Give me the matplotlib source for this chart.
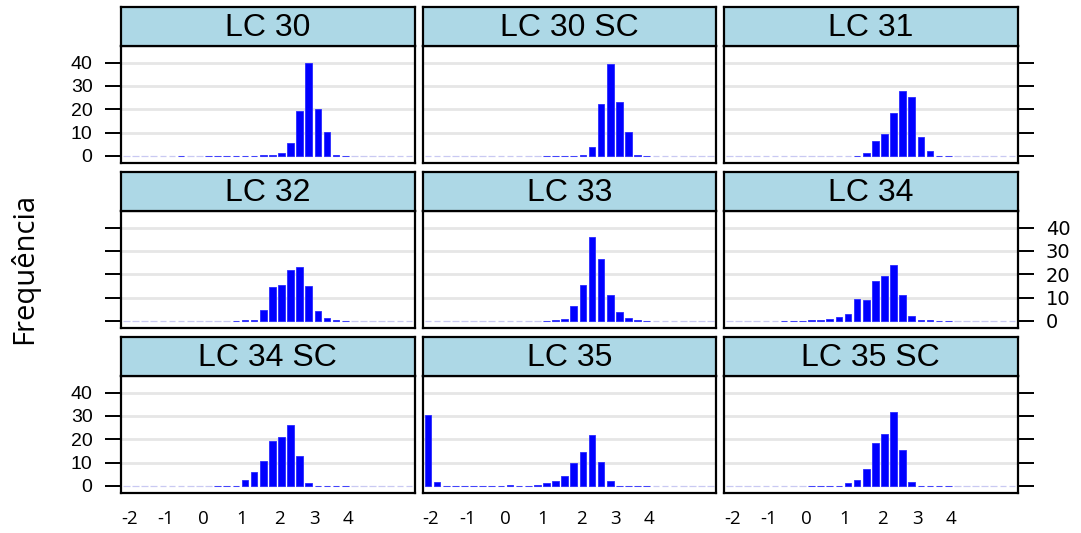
import numpy as np
import matplotlib
matplotlib.use("Agg")
import matplotlib.pyplot as plt

# ---------------- data ----------------
panel_names = ["LC 30", "LC 30 SC", "LC 31",
               "LC 32", "LC 33", "LC 34",
               "LC 34 SC", "LC 35", "LC 35 SC"]

lc30 = [0, 0, 0, 0, 0, 0, 0.2, 0, 0, 0.2, 0.2, 0.2, 0.2, 0.2, 0.2, 0.5,
        0.5, 1.1, 5.4, 19.3, 40, 20.1, 10.3, 0.6, 0.2, 0, 0, 0, 0, 0, 0, 0]
lc30sc = [0, 0, 0, 0, 0, 0, 0, 0, 0, 0, 0, 0, 0, 0.2, 0.2, 0.2,
          0.2, 0.4, 3.7, 22.1, 39.3, 23.1, 10.4, 0.4, 0.2, 0, 0, 0, 0, 0, 0, 0]
lc31 = [0, 0, 0, 0, 0, 0, 0, 0, 0, 0, 0, 0, 0, 0, 0.2, 1.1,
        6.4, 9.4, 18.3, 28, 25.4, 8, 2.1, 0.2, 0.2, 0, 0, 0, 0, 0, 0, 0]
lc32 = [0, 0, 0, 0, 0, 0, 0, 0, 0, 0, 0, 0, 0.2, 0.4, 0.4, 4.6,
        14.7, 15.4, 21.7, 23.1, 14.9, 4.3, 1.1, 0.4, 0.1, 0, 0, 0, 0, 0, 0, 0]
lc33 = [0, 0, 0, 0, 0, 0, 0, 0, 0, 0, 0, 0, 0, 0.2, 0.3, 0.7,
        6.6, 15.4, 35.9, 26.4, 11, 3.7, 1.1, 0.4, 0.2, 0, 0, 0, 0, 0, 0, 0]
lc34 = [0, 0, 0, 0, 0, 0, 0.2, 0.2, 0.2, 0.3, 0.3, 0.7, 1.7, 3.1, 9.6, 9,
        17.3, 19.3, 24.1, 11, 2.1, 0.3, 0.3, 0.2, 0.2, 0, 0, 0, 0, 0, 0, 0]
lc34sc = [0, 0, 0, 0, 0, 0, 0, 0, 0, 0, 0.2, 0.2, 0.2, 2.6, 6, 10.9,
          19.3, 21.1, 26, 12.9, 1.1, 0.2, 0.2, 0.2, 0.2, 0, 0, 0, 0, 0, 0, 0]
lc35 = [30.4, 1.7, 0.2, 0.2, 0.2, 0.2, 0.2, 0.2, 0.2, 0.6, 0.2, 0.2, 0.4, 1.1, 2.1, 4.3,
        10, 14.4, 21.7, 10.4, 2.1, 0.2, 0.2, 0.2, 0.2, 0, 0, 0, 0, 0, 0, 0]
lc35sc = [0, 0, 0, 0, 0, 0, 0, 0, 0, 0.2, 0.2, 0.2, 0.2, 1.1, 2.6, 7.1,
          18.3, 22.1, 31.6, 15.4, 1.7, 0.2, 0.2, 0.2, 0.2, 0, 0, 0, 0, 0, 0, 0]

series = [lc30, lc30sc, lc31, lc32, lc33, lc34, lc34sc, lc35, lc35sc]

y_ticks = [0, 10, 20, 30, 40]
x_tick_labels = ["-2", "-1", "0", "1", "2", "3", "4"]
x_tick_pos = [1.3, 5.3, 9.45, 13.6, 17.8, 21.6, 25.3]
y_label = "Frequência"

# ---------------- layout ----------------
W, H = 1081, 533
fig = plt.figure(figsize=(W / 100, H / 100), dpi=100)
fig.patch.set_facecolor("white")

col_left = [121, 422.5, 724]
panel_w = 293.5
strip_top = [7, 172, 337]
strip_h = 39
panel_h = 117

BAR_BLUE = "#0000ff"
GRID = "#e6e6e6"
LAVENDER = "#c9c9f2"
STRIP = "#add8e6"

def fa(x0, y0, w, h):
    return [x0 / W, 1 - (y0 + h) / H, w / W, h / H]

bins = np.arange(1, 33)

for i, (name, vals) in enumerate(zip(panel_names, series)):
    r, c = divmod(i, 3)
    x0 = col_left[c]
    st = strip_top[r]
    v = np.asarray(vals, dtype=float)
    nz = v > 0
    # panel
    ax = fig.add_axes(fa(x0, st + strip_h, panel_w, panel_h))
    ax.set_xlim(0.4, 32.6)
    ax.set_ylim(-3.0, 47.1)
    for yv in y_ticks[1:]:
        ax.axhline(yv, color=GRID, lw=2.0, zorder=0)
    ax.bar(bins, np.zeros(len(bins)), width=0.73, color="none",
           edgecolor=LAVENDER, linewidth=0.9, zorder=1)
    ax.bar(bins[nz], v[nz], width=0.73, color=BAR_BLUE, edgecolor="#2a2aff",
           linewidth=0.6, zorder=2)
    for s in ax.spines.values():
        s.set_linewidth(1.6)
        s.set_color("black")
    ax.set_yticks(y_ticks)
    ax.tick_params(axis="y", length=11.5, width=1.4, pad=9,
                   labelsize=14, colors="black")
    for lab in ax.get_yticklabels():
        lab.set_fontfamily("Liberation Sans")
    if c == 0:
        ax.tick_params(axis="y", left=True, right=False,
                       labelleft=(r != 1), labelright=False)
    elif c == 2:
        ax.tick_params(axis="y", left=False, right=True,
                       labelleft=False, labelright=(r == 1))
    else:
        ax.tick_params(axis="y", left=False, right=False,
                       labelleft=False, labelright=False)
    if r == 2:
        ax.set_xticks(x_tick_pos)
        ax.set_xticklabels(x_tick_labels, fontfamily="Open Sans", fontsize=13.5)
        ax.tick_params(axis="x", length=0, pad=12)
    else:
        ax.set_xticks([])
    # strip
    sax = fig.add_axes(fa(x0, st, panel_w, strip_h))
    sax.set_facecolor(STRIP)
    sax.set_xticks([])
    sax.set_yticks([])
    for s in sax.spines.values():
        s.set_linewidth(1.6)
        s.set_color("black")
    sax.text(0.5, 0.47, name, ha="center", va="center", fontsize=23,
             fontfamily="Liberation Sans", transform=sax.transAxes)

fig.text(24 / W, 1 - 268 / H, y_label, rotation=90, ha="center", va="center",
         fontsize=21, fontfamily="Open Sans")

fig.savefig("out.png", dpi=100, facecolor="white")
